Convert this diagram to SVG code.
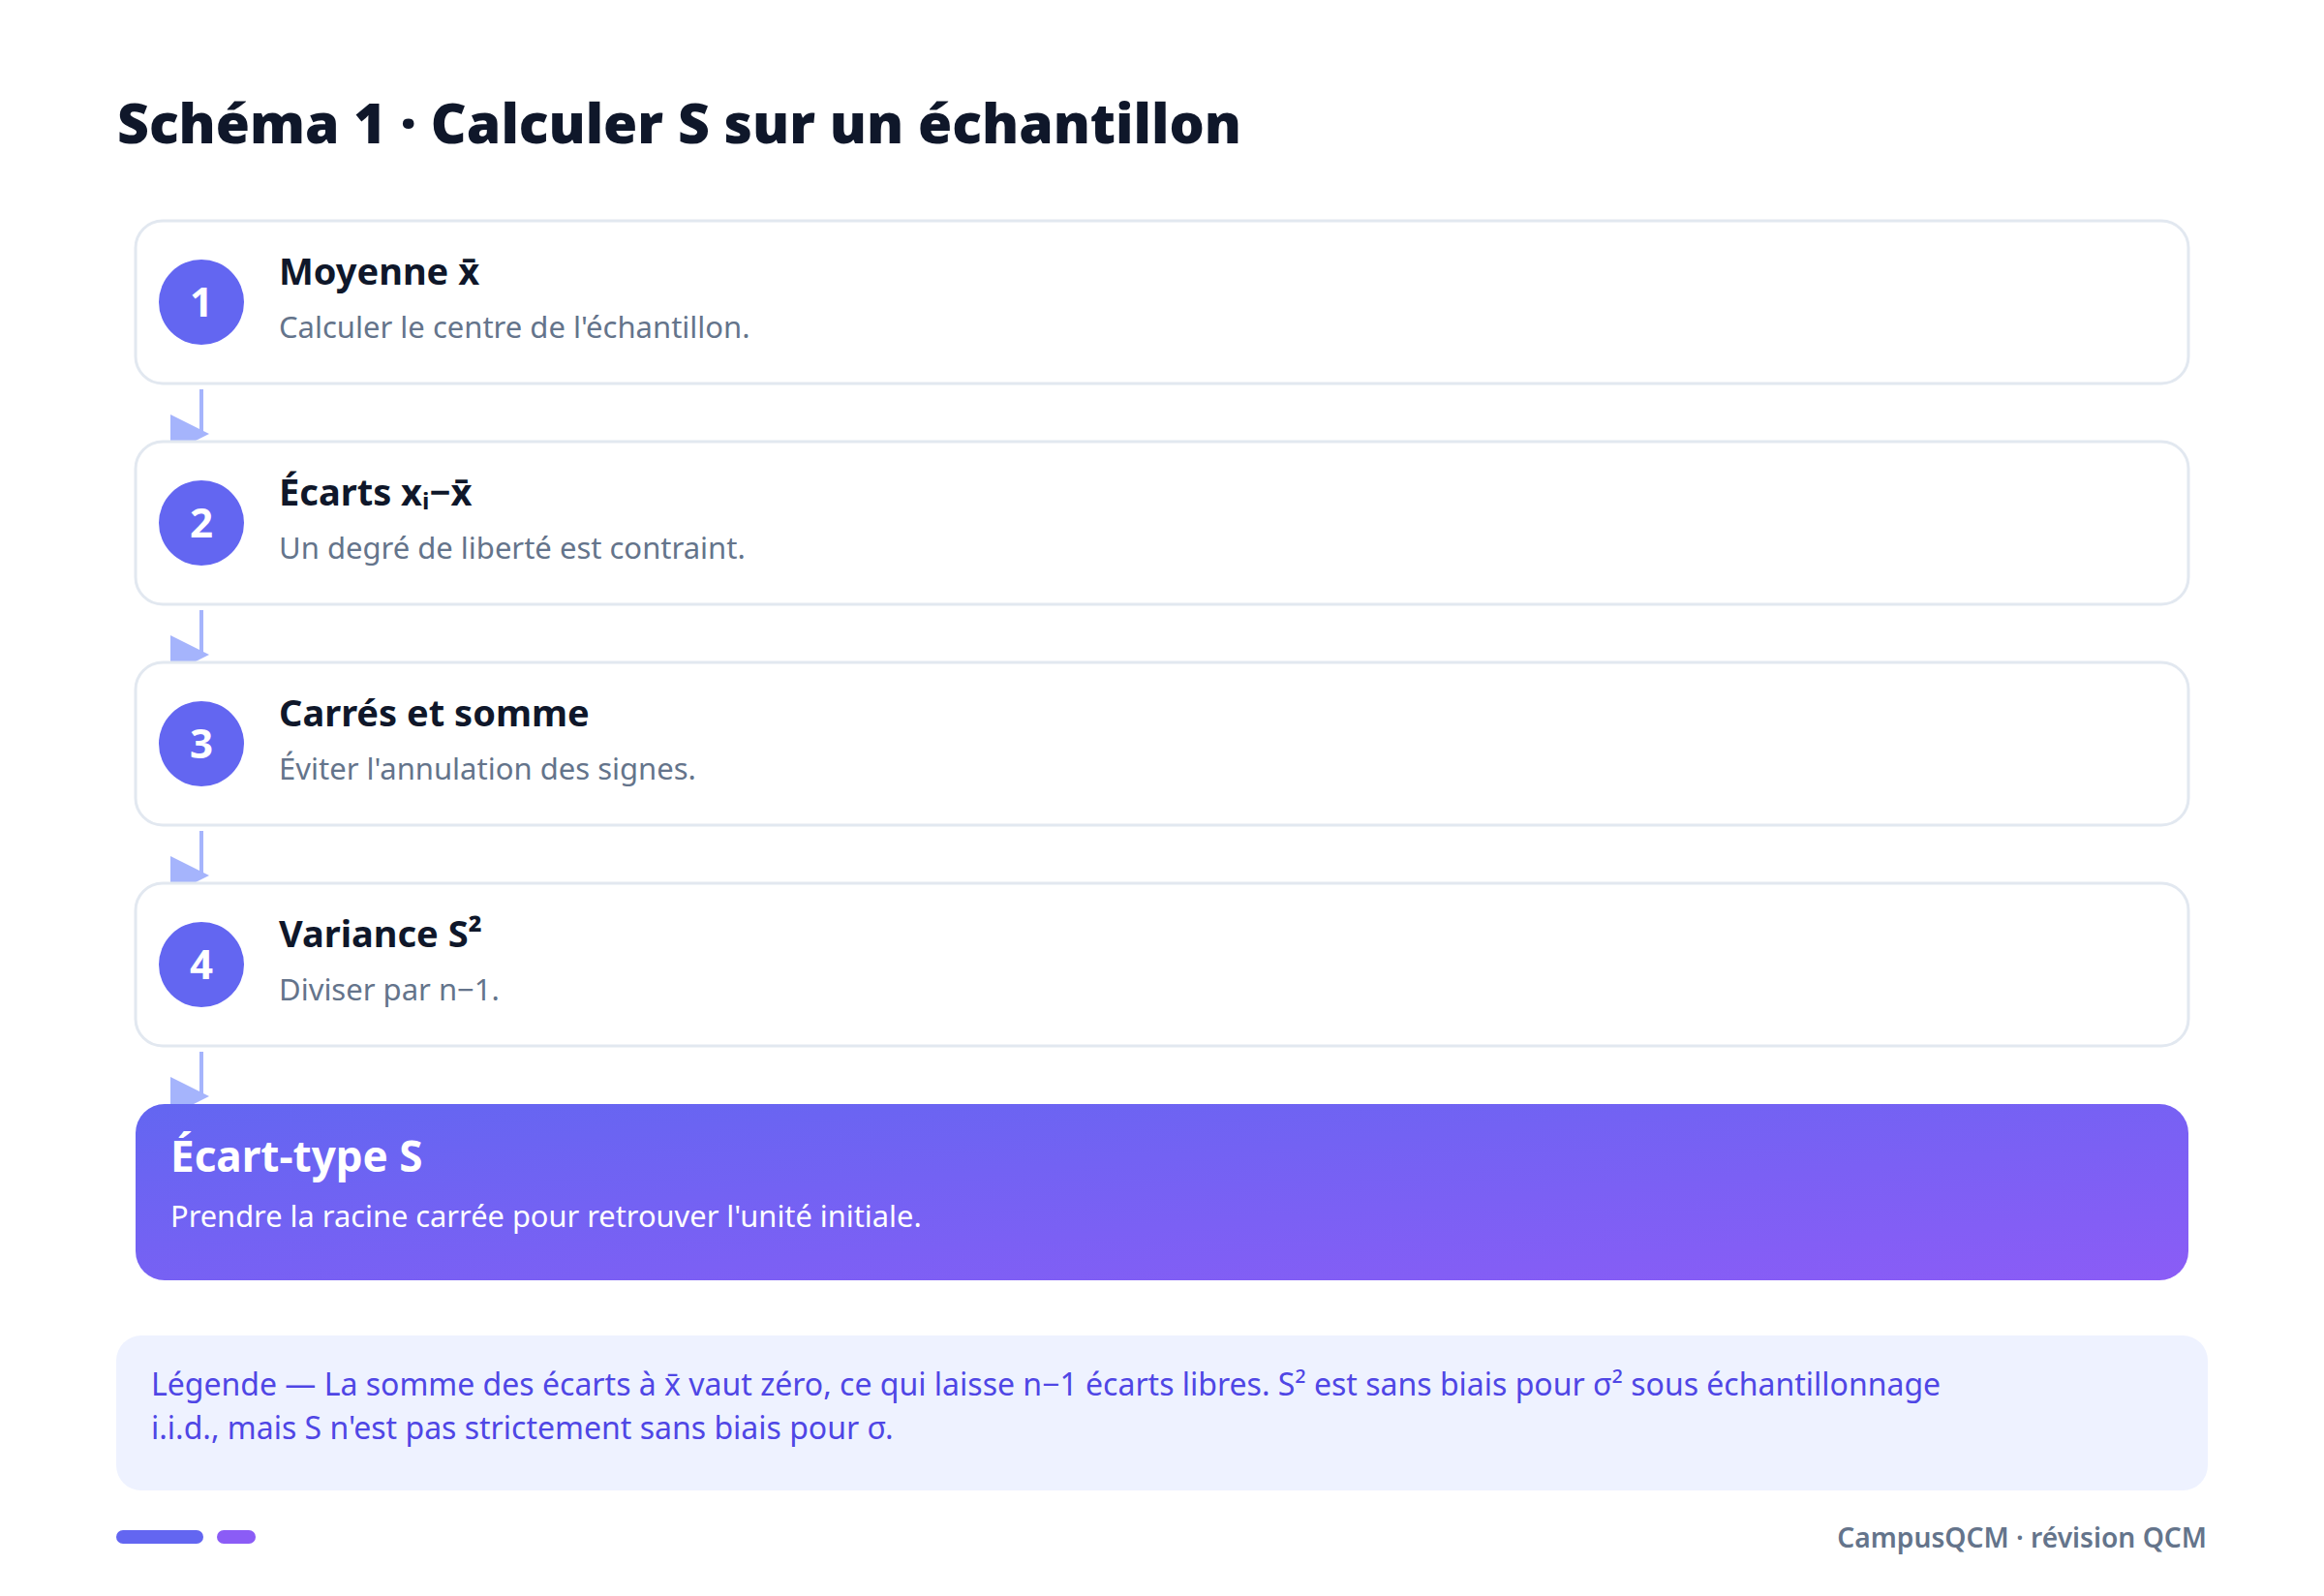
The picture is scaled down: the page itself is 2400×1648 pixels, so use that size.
<svg xmlns="http://www.w3.org/2000/svg" width="2400" height="1648" viewBox="0 0 2400 1648">
<defs>
<style>
.bg{fill:#ffffff}
.h1{font-family:"Noto Sans","Liberation Sans",sans-serif;font-weight:900;font-size:57px;fill:#0f172a}
.card{fill:#ffffff;stroke:#e2e8f0;stroke-width:3}
.num-c{fill:#6366f1}
.num{font-family:"Noto Sans","Liberation Sans",sans-serif;font-weight:700;font-size:42px;fill:#ffffff;text-anchor:middle}
.ct{font-family:"Noto Sans","Liberation Sans",sans-serif;font-weight:700;font-size:38px;fill:#0f172a}
.cd{font-family:"Noto Sans","Liberation Sans",sans-serif;font-weight:400;font-size:31px;fill:#64748b}
.ft{font-family:"Noto Sans","Liberation Sans",sans-serif;font-weight:700;font-size:44px;fill:#ffffff}
.fd{font-family:"Noto Sans","Liberation Sans",sans-serif;font-weight:400;font-size:30.8px;fill:#ffffff}
.conn{stroke:#a5b4fc;stroke-width:4;fill:none;marker-end:url(#arr)}
.leg{fill:#eef2ff}
.lt{font-family:"Noto Sans","Liberation Sans",sans-serif;font-weight:400;font-size:32px;fill:#4f46e5}
.foot{font-family:"Noto Sans","Liberation Sans",sans-serif;font-weight:600;font-size:28.2px;fill:#64748b;text-anchor:end}
</style>
<marker id="arr" markerWidth="10" markerHeight="10" refX="8" refY="5" orient="0" markerUnits="strokeWidth">
<path d="M0,0 L10,5 L0,10 z" fill="#a5b4fc"/>
</marker>
<linearGradient id="grad" x1="0" y1="0" x2="1" y2="1">
<stop offset="0" stop-color="#6366f1"/>
<stop offset="1" stop-color="#8b5cf6"/>
</linearGradient>
</defs>
<rect class="bg" x="0" y="0" width="2400" height="1648"/>
<text class="h1" x="121" y="148">Schéma 1 · Calculer S sur un échantillon</text>

<g id="connectors">
<line class="conn" x1="208" y1="402" x2="208" y2="448"/>
<line class="conn" x1="208" y1="630" x2="208" y2="676"/>
<line class="conn" x1="208" y1="858" x2="208" y2="904"/>
<line class="conn" x1="208" y1="1086" x2="208" y2="1132"/>
</g>

<g id="step1">
<rect class="card" x="140" y="228" width="2120" height="168" rx="28"/>
<circle class="num-c" cx="208" cy="312" r="44"/>
<text class="num" x="208" y="327">1</text>
<text class="ct" x="288" y="294">Moyenne x̄</text>
<text class="cd" x="288" y="349">Calculer le centre de l'échantillon.</text>
</g>
<g id="step2">
<rect class="card" x="140" y="456" width="2120" height="168" rx="28"/>
<circle class="num-c" cx="208" cy="540" r="44"/>
<text class="num" x="208" y="555">2</text>
<text class="ct" x="288" y="522">Écarts xᵢ−x̄</text>
<text class="cd" x="288" y="577">Un degré de liberté est contraint.</text>
</g>
<g id="step3">
<rect class="card" x="140" y="684" width="2120" height="168" rx="28"/>
<circle class="num-c" cx="208" cy="768" r="44"/>
<text class="num" x="208" y="783">3</text>
<text class="ct" x="288" y="750">Carrés et somme</text>
<text class="cd" x="288" y="805">Éviter l'annulation des signes.</text>
</g>
<g id="step4">
<rect class="card" x="140" y="912" width="2120" height="168" rx="28"/>
<circle class="num-c" cx="208" cy="996" r="44"/>
<text class="num" x="208" y="1011">4</text>
<text class="ct" x="288" y="978">Variance S²</text>
<text class="cd" x="288" y="1033">Diviser par n−1.</text>
</g>
<g id="result">
<rect x="140" y="1140" width="2120" height="182" rx="30" fill="url(#grad)"/>
<text class="ft" x="176" y="1210">Écart-type S</text>
<text class="fd" x="176" y="1267">Prendre la racine carrée pour retrouver l'unité initiale.</text>
</g>

<g id="legend">
<rect class="leg" x="120" y="1379" width="2160" height="160" rx="26"/>
<text class="lt" x="156" y="1441">Légende — La somme des écarts à x̄ vaut zéro, ce qui laisse n−1 écarts libres. S² est sans biais pour σ² sous échantillonnage</text>
<text class="lt" x="156" y="1486">i.i.d., mais S n'est pas strictement sans biais pour σ.</text>
</g>

<g id="footer">
<rect x="120" y="1580" width="90" height="14" rx="7" fill="#6366f1"/>
<rect x="224" y="1580" width="40" height="14" rx="7" fill="#8b5cf6"/>
<text class="foot" x="2279" y="1598">CampusQCM · révision QCM</text>
</g>
</svg>
